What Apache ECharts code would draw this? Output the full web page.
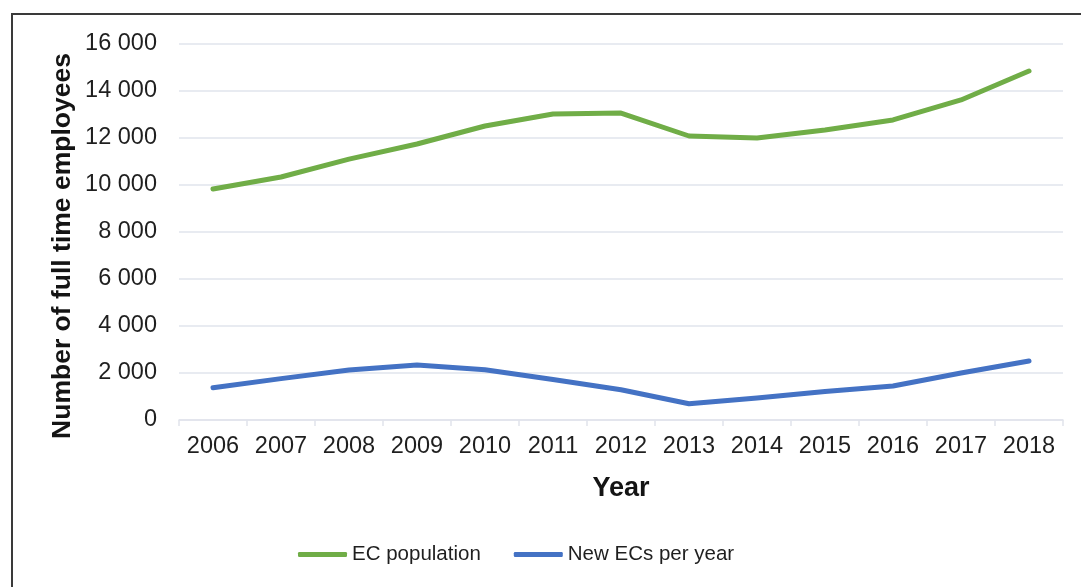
<!DOCTYPE html>
<html>
<head>
<meta charset="utf-8">
<style>
  html, body { margin: 0; padding: 0; background: #ffffff; }
  #chart { width: 1081px; height: 587px; }
</style>
<script src="https://cdn.jsdelivr.net/npm/echarts@6/dist/echarts.min.js"></script>
</head>
<body>
<div id="chart"></div>
<script>
// Years on the category axis
const years = ['2006', '2007', '2008', '2009', '2010', '2011', '2012', '2013', '2014', '2015', '2016', '2017', '2018'];

// Total EC population (full time employees)
const ecPopulation = [9830, 10340, 11100, 11745, 12510, 13020, 13060, 12085, 12000, 12340, 12770, 13620, 14850];

// New ECs added each year
const newEcsPerYear = [1375, 1760, 2130, 2340, 2140, 1720, 1290, 690, 940, 1210, 1450, 2000, 2510];

// Value axis ticks
const yMin = 0;
const yMax = 16000;
const yStep = 2000;

const seriesNames = ['EC population', 'New ECs per year'];
const seriesColors = ['#70ad47', '#4472c4'];

const fontFamily = '"Liberation Sans", Arial, sans-serif';
const textColor = '#1f1f1f';
const gridColor = '#e1e4ec';

function spaced(v) {
  return String(v).replace(/\B(?=(\d{3})+(?!\d))/g, ' ');
}

const chart = echarts.init(document.getElementById('chart'), null, { renderer: 'canvas' });

chart.setOption({
  animation: false,
  backgroundColor: '#ffffff',
  textStyle: { fontFamily: fontFamily },
  grid: { left: 179, right: 18, top: 44, bottom: 167, containLabel: false },
  graphic: [
    {
      type: 'rect',
      shape: { x: 12, y: 14, width: 1200, height: 700 },
      style: { fill: 'none', stroke: '#3a3a3a', lineWidth: 2 },
      silent: true
    },
    {
      type: 'text',
      x: 63,
      y: 246,
      rotation: Math.PI / 2,
      style: {
        text: 'Number of full time employees',
        font: 'bold 26.5px ' + fontFamily,
        fill: '#141414',
        align: 'center',
        verticalAlign: 'middle'
      },
      silent: true
    }
  ],
  legend: {
    left: 293,
    top: 539,
    itemWidth: 49,
    itemHeight: 5,
    itemGap: 33,
    icon: 'roundRect',
    textStyle: { fontSize: 20.5, color: textColor, fontFamily: fontFamily },
    data: seriesNames
  },
  xAxis: {
    type: 'category',
    data: years,
    boundaryGap: true,
    name: 'Year',
    nameLocation: 'middle',
    nameGap: 55,
    nameTextStyle: { fontSize: 27, fontWeight: 'bold', color: '#141414', fontFamily: fontFamily },
    axisLine: { show: true, lineStyle: { color: gridColor, width: 1.5 } },
    axisTick: { show: true, length: 6, alignWithLabel: false, lineStyle: { color: gridColor, width: 1.5 } },
    axisLabel: { fontSize: 23.5, color: textColor, margin: 15, fontFamily: fontFamily },
    splitLine: { show: false }
  },
  yAxis: {
    type: 'value',
    min: yMin,
    max: yMax,
    interval: yStep,
    axisLine: { show: false },
    axisTick: { show: false },
    axisLabel: {
      fontSize: 23.5,
      color: textColor,
      margin: 22,
      fontFamily: fontFamily,
      formatter: spaced
    },
    splitLine: { show: true, lineStyle: { color: gridColor, width: 1.5 } }
  },
  series: [
    {
      name: seriesNames[0],
      type: 'line',
      data: ecPopulation,
      symbol: 'none',
      color: seriesColors[0],
      lineStyle: { width: 5, color: seriesColors[0], cap: 'round', join: 'round' }
    },
    {
      name: seriesNames[1],
      type: 'line',
      data: newEcsPerYear,
      symbol: 'none',
      color: seriesColors[1],
      lineStyle: { width: 5, color: seriesColors[1], cap: 'round', join: 'round' }
    }
  ]
});
</script>
</body>
</html>
